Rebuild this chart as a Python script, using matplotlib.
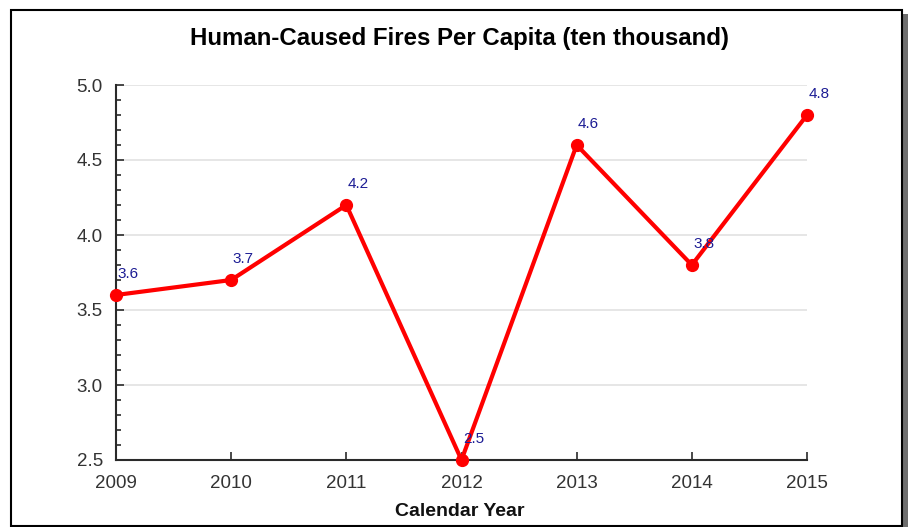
import matplotlib
matplotlib.use("Agg")
import matplotlib.pyplot as plt
from matplotlib.patches import Rectangle
from matplotlib.ticker import MultipleLocator

years = [2009, 2010, 2011, 2012, 2013, 2014, 2015]
values = [3.6, 3.7, 4.2, 2.5, 4.6, 3.8, 4.8]
title = "Human-Caused Fires Per Capita (ten thousand)"
xlabel = "Calendar Year"

plt.rcParams['font.family'] = ['Liberation Sans', 'DejaVu Sans']

W, H = 908, 527
fig = plt.figure(figsize=(W / 100, H / 100), dpi=100)

def fx(px):
    return px / W

def fy(py):
    return 1 - py / H

# shadow and frame
fig.patches.append(Rectangle((fx(16), fy(531)), fx(902 - 10), (526 - 9) / H,
                             transform=fig.transFigure, facecolor='#6e6e6e',
                             edgecolor='none', zorder=0))
fig.patches.append(Rectangle((fx(11), fy(526)), fx(902 - 11), (526 - 9.5) / H,
                             transform=fig.transFigure, facecolor='white',
                             edgecolor='black', linewidth=1.5, zorder=1))

ax = fig.add_axes([fx(116), fy(460), fx(807 - 116), (460 - 85) / H])
ax.set_facecolor('none')
ax.set_zorder(2)

ax.plot(years, values, color='#ff0000', linewidth=3, marker='o',
        markersize=8.5, zorder=3, clip_on=False)

for x, y in zip(years, values):
    ax.annotate(f"{y:.1f}", (x, y), xytext=(1, 15), textcoords='offset points',
                ha='left', va='center', fontsize=11, color='#1c1c94', zorder=4)

ax.set_xlim(2009, 2015)
ax.set_ylim(2.5, 5.0)
ax.set_xticks(years)
ax.set_xticklabels([str(y) for y in years])
ax.yaxis.set_major_locator(MultipleLocator(0.5))
ax.yaxis.set_minor_locator(MultipleLocator(0.1))
ax.yaxis.set_major_formatter(matplotlib.ticker.FormatStrFormatter('%.1f'))

ax.grid(axis='y', which='major', color='#e2e2e2', linewidth=1.2, zorder=0)
ax.set_axisbelow(True)

for s in ['top', 'right']:
    ax.spines[s].set_visible(False)
for s in ['left', 'bottom']:
    ax.spines[s].set_color('#2a2a2a')
    ax.spines[s].set_linewidth(1.5)

ax.tick_params(axis='x', direction='in', length=6, width=1.2, color='#2a2a2a',
               labelsize=13.5, labelcolor='#333333', pad=10.5)
ax.tick_params(axis='y', which='major', direction='in', length=5.5, width=1.2,
               color='#2a2a2a', labelsize=13.5, labelcolor='#333333', pad=9.5)
ax.tick_params(axis='y', which='minor', direction='in', length=3.5, width=1.2,
               color='#2a2a2a')

fig.text(fx(459), fy(38), title, ha='center', va='center', fontsize=17.3,
         fontweight='bold', color='black', zorder=5)
fig.text(fx(460), fy(511), xlabel, ha='center', va='center', fontsize=14,
         fontweight='bold', color='#111111', zorder=5)

fig.savefig("out.png", dpi=100)
